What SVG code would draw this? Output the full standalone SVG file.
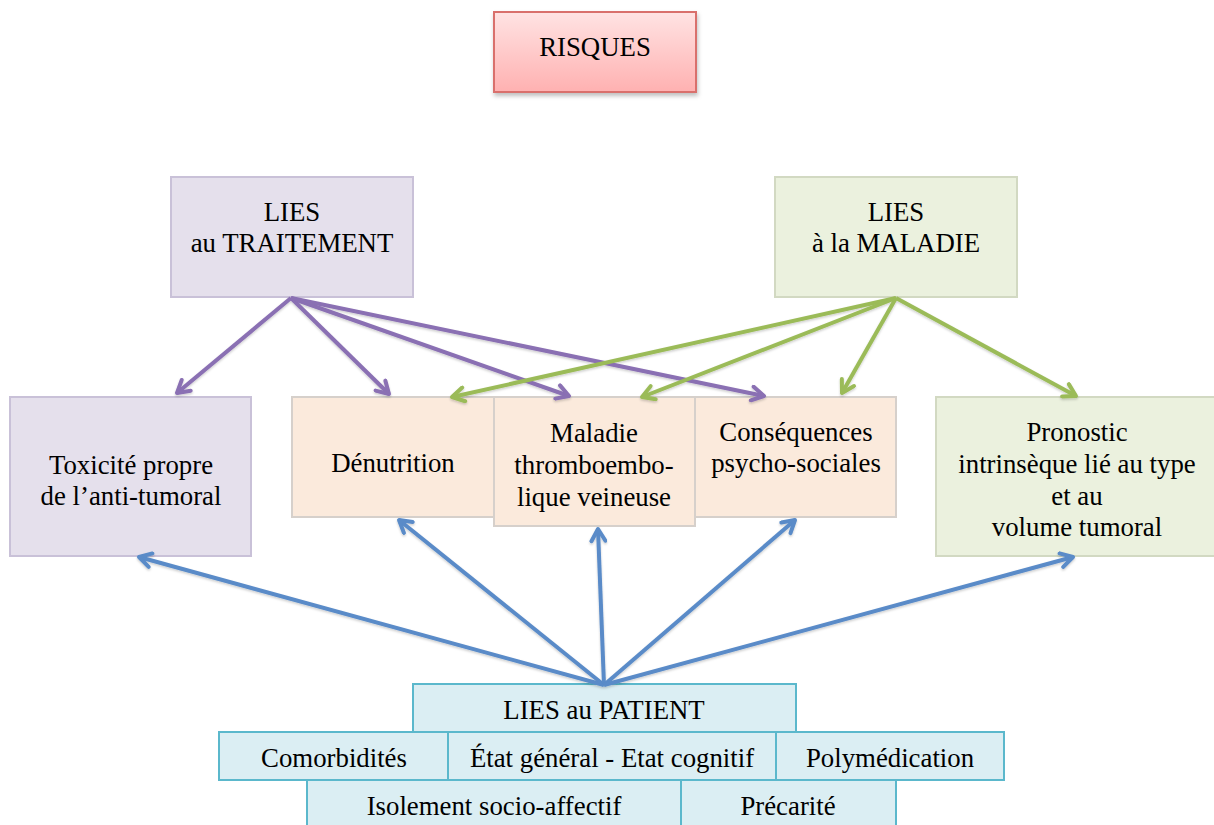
<svg xmlns="http://www.w3.org/2000/svg" width="1214" height="825" viewBox="0 0 1214 825">
<defs>
<linearGradient id="gRed" x1="0" y1="0" x2="0" y2="1">
<stop offset="0" stop-color="#ffe3e3"/><stop offset="1" stop-color="#ffb1b1"/>
</linearGradient>
<filter id="sh" x="-10%" y="-10%" width="130%" height="140%">
<feDropShadow dx="1" dy="3" stdDeviation="2" flood-color="#000" flood-opacity="0.25"/>
</filter>
<filter id="lsh" x="-10%" y="-10%" width="120%" height="120%">
<feDropShadow dx="0" dy="1.5" stdDeviation="1" flood-color="#000" flood-opacity="0.2"/>
</filter>
<marker id="aP" viewBox="-15 -9 18 18" refX="0" refY="0" markerWidth="18" markerHeight="18" markerUnits="userSpaceOnUse" orient="auto">
<path d="M-12,-7 L0,0 L-12,7" fill="none" stroke="#8a6fb3" stroke-width="4" stroke-linecap="round" stroke-linejoin="round"/>
</marker>
<marker id="aG" viewBox="-15 -9 18 18" refX="0" refY="0" markerWidth="18" markerHeight="18" markerUnits="userSpaceOnUse" orient="auto">
<path d="M-12,-7 L0,0 L-12,7" fill="none" stroke="#9bbb59" stroke-width="4" stroke-linecap="round" stroke-linejoin="round"/>
</marker>
<marker id="aB" viewBox="-15 -9 18 18" refX="0" refY="0" markerWidth="18" markerHeight="18" markerUnits="userSpaceOnUse" orient="auto">
<path d="M-12,-7 L0,0 L-12,7" fill="none" stroke="#5a8bc8" stroke-width="4" stroke-linecap="round" stroke-linejoin="round"/>
</marker>
</defs>
<style>
.t{font-size:26.8px;fill:#000;text-anchor:middle}
.pu{fill:#e5e0ec;stroke:#c9c1d8;stroke-width:2}
.gr{fill:#ebf1de;stroke:#d2d9c2;stroke-width:2}
.pe{fill:#fbeadc;stroke:#d6d0cb;stroke-width:2}
.te{fill:#dbeef3;stroke:#5bb8cc;stroke-width:2}
.lp{fill:none;stroke:#8a6fb3;stroke-width:4;marker-end:url(#aP)}
.lg{fill:none;stroke:#9bbb59;stroke-width:4;marker-end:url(#aG)}
.lb{fill:none;stroke:#5a8bc8;stroke-width:4;marker-end:url(#aB)}
</style>
<rect width="1214" height="825" fill="#ffffff"/>

<g id="risques">
<rect x="494" y="12" width="202" height="80" fill="url(#gRed)" stroke="#d9706c" stroke-width="2" filter="url(#sh)"/>
<text class="t" x="595" y="56" font-family="Liberation Serif">RISQUES</text>
</g>

<g id="traitement">
<rect class="pu" x="171" y="177" width="242" height="120"/>
<text class="t" x="292" y="221" font-family="Liberation Serif">LIES</text>
<text class="t" x="292" y="252" font-family="Liberation Serif">au TRAITEMENT</text>
</g>

<g id="maladie-cat">
<rect class="gr" x="775" y="177" width="242" height="120"/>
<text class="t" x="896" y="221" font-family="Liberation Serif">LIES</text>
<text class="t" x="896" y="252" font-family="Liberation Serif">à la MALADIE</text>
</g>

<g id="toxicite">
<rect class="pu" x="10" y="397" width="241" height="159"/>
<text class="t" x="131" y="474" font-family="Liberation Serif">Toxicité propre</text>
<text class="t" x="131" y="505" font-family="Liberation Serif">de l’anti-tumoral</text>
</g>

<g id="denutrition">
<rect class="pe" x="292" y="397" width="203" height="120"/>
<text class="t" x="393" y="472" font-family="Liberation Serif">Dénutrition</text>
</g>

<g id="consequences">
<rect class="pe" x="695" y="397" width="201" height="120"/>
<text class="t" x="796" y="441" font-family="Liberation Serif">Conséquences</text>
<text class="t" x="796" y="472" font-family="Liberation Serif">psycho-sociales</text>
</g>

<g id="mtev">
<rect class="pe" x="494" y="397" width="201" height="129"/>
<text class="t" x="594" y="442" font-family="Liberation Serif">Maladie</text>
<text class="t" x="594" y="474" font-family="Liberation Serif">thromboembo-</text>
<text class="t" x="594" y="506" font-family="Liberation Serif">lique veineuse</text>
</g>

<g id="pronostic">
<rect class="gr" x="936" y="397" width="280" height="159"/>
<text class="t" x="1077" y="441" font-family="Liberation Serif">Pronostic</text>
<text class="t" x="1077" y="473" font-family="Liberation Serif">intrinsèque lié au type</text>
<text class="t" x="1077" y="505" font-family="Liberation Serif">et au</text>
<text class="t" x="1077" y="536" font-family="Liberation Serif">volume tumoral</text>
</g>

<g id="patient">
<rect class="te" x="413" y="684" width="383" height="48"/>
<text class="t" x="604" y="719" font-family="Liberation Serif">LIES au PATIENT</text>
</g>
<g id="comorbidites">
<rect class="te" x="219" y="732" width="229" height="48"/>
<text class="t" x="334" y="767" font-family="Liberation Serif">Comorbidités</text>
</g>
<g id="etat">
<rect class="te" x="448" y="732" width="328" height="48"/>
<text class="t" x="612" y="767" font-family="Liberation Serif">État général - Etat cognitif</text>
</g>
<g id="polymedication">
<rect class="te" x="776" y="732" width="228" height="48"/>
<text class="t" x="890" y="767" font-family="Liberation Serif">Polymédication</text>
</g>
<g id="isolement">
<rect class="te" x="307" y="780" width="374" height="48"/>
<text class="t" x="494" y="815" font-family="Liberation Serif">Isolement socio-affectif</text>
</g>
<g id="precarite">
<rect class="te" x="681" y="780" width="215" height="48"/>
<text class="t" x="788" y="815" font-family="Liberation Serif">Précarité</text>
</g>

<g id="connectors" filter="url(#lsh)">
<path class="lp" d="M291,298 L177,393"/>
<path class="lp" d="M291,298 L389,394"/>
<path class="lp" d="M291,298 L569,396"/>
<path class="lp" d="M291,298 L764,396"/>
<path class="lg" d="M896,298 L452,397"/>
<path class="lg" d="M896,298 L642,397"/>
<path class="lg" d="M896,298 L842,393"/>
<path class="lg" d="M896,298 L1076,396"/>
<path class="lb" d="M604,685 L139,557"/>
<path class="lb" d="M604,685 L399,520"/>
<path class="lb" d="M604,685 L598,529"/>
<path class="lb" d="M604,685 L795,520"/>
<path class="lb" d="M604,685 L1073,557"/>
</g>
</svg>
